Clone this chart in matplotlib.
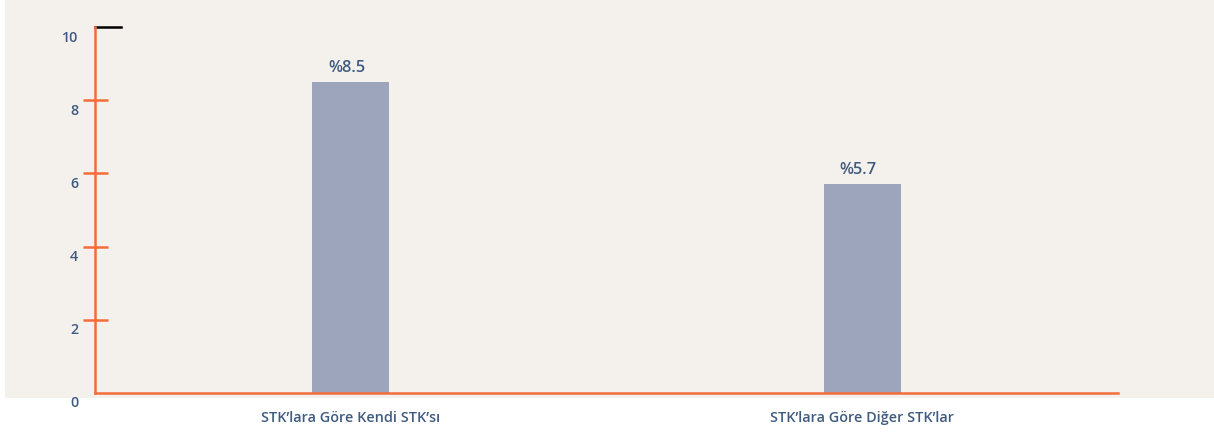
import matplotlib.pyplot as plt
import matplotlib.transforms as mtransforms
from matplotlib.patches import Rectangle

# Data
categories = ['STK’lara Göre Kendi STK’sı', 'STK’lara Göre Diğer STK’lar']
values = [8.5, 5.7]
value_labels = ['%8.5', '%5.7']
y_ticks = [0, 2, 4, 6, 8, 10]

orange = '#f26d3a'
text_color = '#3f5b80'
bar_color = '#9ca5bb'
bg = '#f4f0eb'

plt.rcParams['font.family'] = ['Open Sans', 'DejaVu Sans']

fig = plt.figure(figsize=(12.14, 4.35), dpi=100)
fig.patch.set_facecolor('white')
fig.patches.append(Rectangle((5 / 1214, 1 - 399 / 435), 1, 1, transform=fig.transFigure,
                             facecolor=bg, edgecolor='none', zorder=-10))

ax = fig.add_axes([95 / 1214, 1 - 394 / 435, 1023 / 1214, 366 / 435])
ax.set_facecolor('none')

x = range(len(categories))
ax.bar(x, values, width=0.15, color=bar_color, zorder=2)

for xi, v, lab in zip(x, values, value_labels):
    ax.annotate(lab, (xi, v), xytext=(-3, 5), textcoords='offset points',
                ha='center', va='bottom', fontsize=11.8, fontweight='semibold',
                color=text_color)

ax.set_xlim(-0.5, 1.5)
ax.set_ylim(0, 10)

# Spines
for s in ['top', 'right']:
    ax.spines[s].set_visible(False)
for s in ['left', 'bottom']:
    ax.spines[s].set_color(orange)
    ax.spines[s].set_linewidth(1.8)
ax.spines['bottom'].set_zorder(3)

# Y ticks
ax.set_yticks(y_ticks)
ax.set_yticklabels([str(t) for t in y_ticks], fontsize=10.3, fontweight='semibold',
                   color=text_color)
ax.tick_params(axis='y', direction='inout', length=18, width=1.8, color=orange, pad=3)
ticks = ax.yaxis.get_major_ticks()
ticks[0].tick1line.set_visible(False)
ticks[-1].tick1line.set_visible(False)
offset = mtransforms.ScaledTranslation(0, -8 / 100, fig.dpi_scale_trans)
for lbl in ax.get_yticklabels():
    lbl.set_transform(lbl.get_transform() + offset)

# black marker at the top of the axis
ax.axhline(10, xmin=0, xmax=26 / 1023, color='black', lw=1.8, clip_on=False)

ax.set_xticks(list(x))
ax.set_xticklabels(categories, fontsize=10.4, fontweight='semibold', color=text_color)
ax.tick_params(axis='x', length=0, pad=12)

plt.savefig('out.png', dpi=100)
plt.close()
